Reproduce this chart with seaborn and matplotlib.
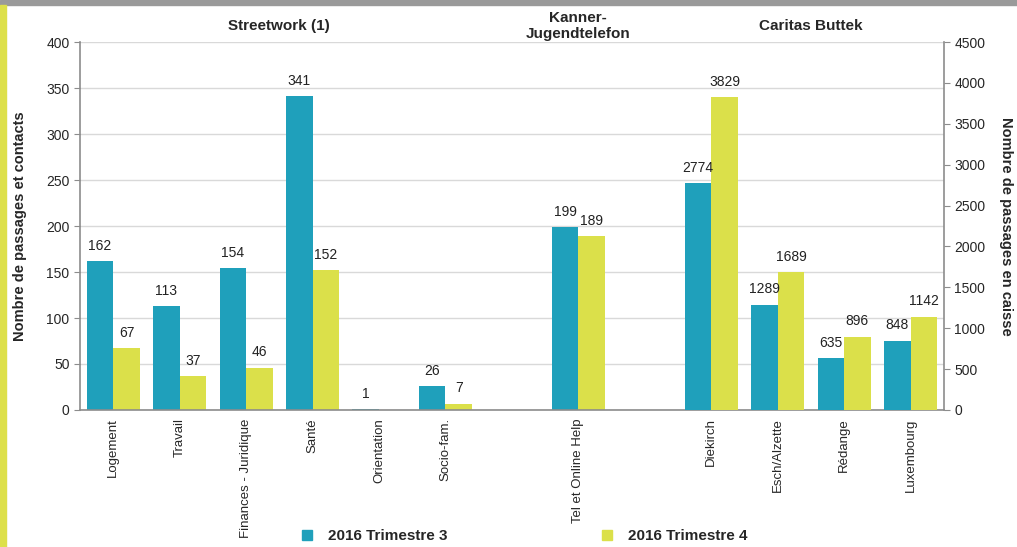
import matplotlib
matplotlib.use('Agg')
import matplotlib.pyplot as plt
from matplotlib.patches import Rectangle
from matplotlib.lines import Line2D
from matplotlib.ticker import MultipleLocator, FixedLocator
import seaborn as sns
import pandas as pd

# Données
categories = ['Logement', 'Travail', 'Finances - Juridique', 'Santé', 'Orientation',
              'Socio-fam.', ' ', 'Tel et Online Help', '  ', 'Diekirch',
              'Esch/Alzette', 'Rédange', 'Luxembourg']
series = ['2016 Trimestre 3', '2016 Trimestre 4']

# axe gauche : Streetwork + Kanner-Jugendtelefon
cats_gauche = ['Logement', 'Travail', 'Finances - Juridique', 'Santé', 'Orientation',
               'Socio-fam.', 'Tel et Online Help']
gauche_t3 = [162, 113, 154, 341, 1, 26, 199]
gauche_t4 = [67, 37, 46, 152, 0, 7, 189]

# axe droit : Caritas Buttek
cats_droite = ['Diekirch', 'Esch/Alzette', 'Rédange', 'Luxembourg']
droite_t3 = [2774, 1289, 635, 848]
droite_t4 = [3829, 1689, 896, 1142]

groupes = ['Streetwork (1)', 'Kanner-\nJugendtelefon', 'Caritas Buttek']

couleurs = ['#1fa0bb', '#dbe04a']

df_gauche = pd.DataFrame({
    'categorie': cats_gauche * 2,
    'valeur': gauche_t3 + gauche_t4,
    'serie': [series[0]] * len(cats_gauche) + [series[1]] * len(cats_gauche),
})
df_droite = pd.DataFrame({
    'categorie': cats_droite * 2,
    'valeur': droite_t3 + droite_t4,
    'serie': [series[0]] * len(cats_droite) + [series[1]] * len(cats_droite),
})

sns.set_style('white')
plt.rcParams['font.family'] = ['Liberation Sans', 'DejaVu Sans']

fig = plt.figure(figsize=(10.17, 5.47), dpi=100)
ax = fig.add_subplot(111)
fig.subplots_adjust(left=0.0787, right=0.928, top=0.923, bottom=0.2505)
ax2 = ax.twinx()

sns.barplot(data=df_gauche, x='categorie', y='valeur', hue='serie', order=categories,
            hue_order=series, palette=couleurs, saturation=1, width=0.8,
            linewidth=0, legend=False, ax=ax)
sns.barplot(data=df_droite, x='categorie', y='valeur', hue='serie', order=categories,
            hue_order=series, palette=couleurs, saturation=1, width=0.8,
            linewidth=0, legend=False, ax=ax2)

for a in (ax, ax2):
    for c in a.containers:
        labels = [f'{v:.0f}' if v > 0 else '' for v in c.datavalues]
        a.bar_label(c, labels=labels, padding=6, fontsize=10, color='#222222')

ax.set_ylim(0, 400)
ax2.set_ylim(0, 4500)
ax.set_xlim(-0.5, len(categories) - 0.5)
ax2.set_xlim(-0.5, len(categories) - 0.5)
ax.yaxis.set_major_locator(MultipleLocator(50))
ax2.yaxis.set_major_locator(MultipleLocator(500))

ax.yaxis.grid(True, color='#d9d9d9', linewidth=1)
ax.set_axisbelow(True)
ax2.grid(False)

gris = '#8c8c8c'
for a in (ax, ax2):
    a.spines['top'].set_visible(False)
    for s in ('left', 'right', 'bottom'):
        a.spines[s].set_color(gris)
        a.spines[s].set_linewidth(1.2)
ax.spines['right'].set_visible(False)
ax2.spines['left'].set_visible(False)
ax2.spines['bottom'].set_visible(False)

ax.set_xticks(range(len(categories)))
ax.set_xticklabels(categories, rotation=90, fontsize=9.5)
ax.xaxis.set_minor_locator(FixedLocator([i - 0.5 for i in range(len(categories) + 1)]))
ax.tick_params(axis='x', which='major', length=0, pad=6)
ax.tick_params(axis='x', which='minor', length=4, color=gris, direction='out')
ax.tick_params(axis='y', length=4, color=gris, labelsize=10, direction='out', left=True)
ax2.tick_params(axis='y', length=4, color=gris, labelsize=10, direction='out', right=True)
ax.set_xlabel('')
ax2.set_xlabel('')

ax.set_ylabel('Nombre de passages et contacts', fontsize=10.5, fontweight='bold', labelpad=14)
ax2.set_ylabel('Nombre de passages en caisse', fontsize=10.5, fontweight='bold',
               rotation=270, labelpad=20)

# titres de groupes
trans = ax.get_xaxis_transform()
ax.text(2.5, 1.045, groupes[0], transform=trans, ha='center', va='center',
        fontsize=11, fontweight='bold')
ax.text(7, 1.044, groupes[1], transform=trans, ha='center', va='center',
        fontsize=11, fontweight='bold', linespacing=1.25)
ax.text(10.5, 1.045, groupes[2], transform=trans, ha='center', va='center',
        fontsize=11, fontweight='bold')

# légende
handles = [Line2D([], [], marker='s', linestyle='', markersize=7, color=c) for c in couleurs]
fig.legend(handles, series, loc='lower center', bbox_to_anchor=(0.511, -0.018), ncol=2,
           frameon=False, columnspacing=9.4, handletextpad=0.4,
           prop={'weight': 'bold', 'size': 11})

# décor : bandeau gris en haut, bande jaune à gauche
fig.patches.append(Rectangle((0, 1 - 5 / 547), 1, 5 / 547, transform=fig.transFigure,
                             color='#9a9a9a', zorder=0))
fig.patches.append(Rectangle((0, 0), 6 / 1017, 1 - 5 / 547, transform=fig.transFigure,
                             color='#dde04a', zorder=0))

plt.savefig('out.png', dpi=100)
